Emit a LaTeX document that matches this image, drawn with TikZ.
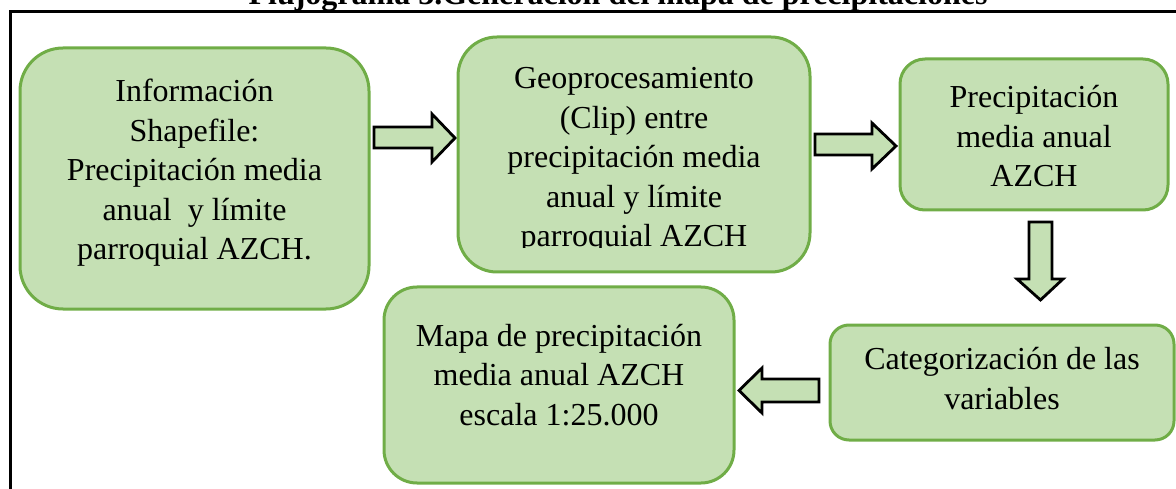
\documentclass[tikz,border=0pt]{standalone}
\usepackage{fontspec}
\setmainfont{Liberation Serif}
\definecolor{boxfill}{RGB}{197,224,180}
\definecolor{boxline}{RGB}{112,173,71}

\begin{document}
\begin{tikzpicture}[x=1pt, y=-1pt,
    box/.style={draw=boxline, fill=boxfill, line width=3pt, inner sep=0pt},
    boxtext/.style={align=center, inner sep=0pt, font=\fontsize{32}{39.5}\selectfont},
    blockarrow/.style={draw=black, fill=boxfill, line width=2.8pt, line join=miter}]
    \useasboundingbox (0,0) rectangle (1176,489);

    \draw[line width=2.8pt] (10.5,11.5) rectangle (1200,520);
    \node[anchor=base, font=\fontsize{32}{38}\selectfont\bfseries] (title) at (618,5)
      {Flujograma 3.Generación del mapa de precipitaciones};

    \node[box, rounded corners=43pt, minimum width=349pt, minimum height=261pt] (info) at (194.5,178.5) {};
    \node[box, rounded corners=39pt, minimum width=352pt, minimum height=235pt] (clip) at (634,154.5) {};
    \node[box, rounded corners=25pt, minimum width=268pt, minimum height=151pt] (prec) at (1034,134.5) {};
    \node[box, rounded corners=19pt, minimum width=344pt, minimum height=115pt] (categ) at (1002,382.5) {};
    \node[box, rounded corners=33pt, minimum width=350pt, minimum height=196pt] (mapa) at (559,385) {};

    % text sits on the baseline of its last line
    \node[boxtext, anchor=base] (infotxt) at (194.5,260)
      {Información\\Shapefile:\\Precipitación media\\anual\ \ y límite\\parroquial AZCH.};
    \begin{scope}
      \clip (458,37) rectangle (810,248);
      \node[boxtext, anchor=base] (cliptxt) at (634,247)
        {Geoprocesamiento\\(Clip) entre\\precipitación media\\anual y límite\\parroquial AZCH};
    \end{scope}
    \node[boxtext, anchor=base] (prectxt) at (1034,187) {Precipitación\\media anual\\AZCH};
    \node[boxtext, anchor=base] (categtxt) at (1002,409) {Categorización de las\\variables};
    \node[boxtext, anchor=base] (mapatxt) at (559,425) {Mapa de precipitación\\media anual AZCH\\escala 1:25.000};

    \draw[blockarrow] (374,127) -- (432,127) -- (432,114) -- (455,138) -- (432,162) -- (432,148) -- (374,148) -- cycle;
    \draw[blockarrow] (815,134) -- (872,134) -- (872,123) -- (896,146) -- (872,169) -- (872,155) -- (815,155) -- cycle;
    \draw[blockarrow] (1029,222) -- (1052,222) -- (1052,279) -- (1063,279) -- (1040.5,300) -- (1017,279) -- (1029,279) -- cycle;
    \draw[blockarrow] (819,379) -- (762,379) -- (762,368) -- (739,390.5) -- (762,413) -- (762,402) -- (819,402) -- cycle;
  \end{tikzpicture}
\end{document}
